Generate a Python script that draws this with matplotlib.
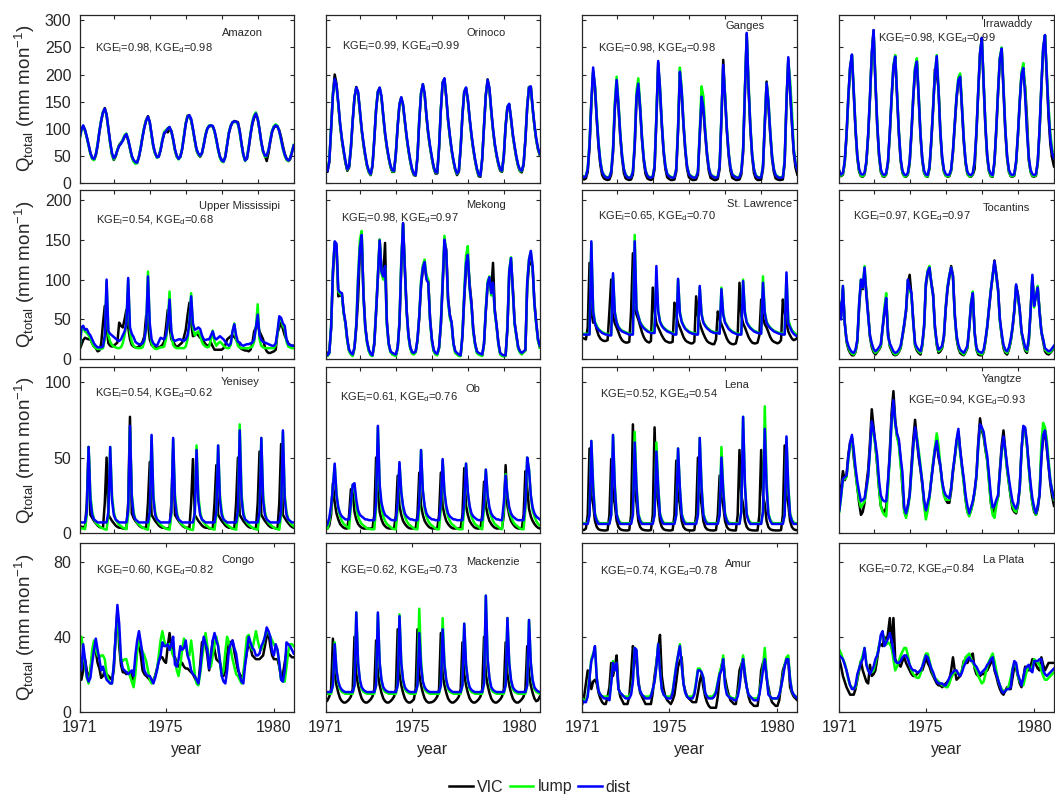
import numpy as np
import matplotlib
matplotlib.use("Agg")
import matplotlib.pyplot as plt
from matplotlib.lines import Line2D

plt.rcParams['font.family'] = ['Liberation Sans', 'DejaVu Sans']
plt.rcParams['mathtext.fontset'] = 'custom'
plt.rcParams['mathtext.rm'] = 'Liberation Sans'
plt.rcParams['mathtext.it'] = 'Liberation Sans:italic'
plt.rcParams['mathtext.bf'] = 'Liberation Sans:bold'

# ---------------- data (monthly, Jan 1971 - Dec 1980) ----------------
basins = ["Amazon", "Orinoco", "Ganges", "Irrawaddy",
          "Upper Mississipi", "Mekong", "St. Lawrence", "Tocantins",
          "Yenisey", "Ob", "Lena", "Yangtze",
          "Congo", "Mackenzie", "Amur", "La Plata"]
kge_l = [0.98, 0.99, 0.98, 0.98, 0.54, 0.98, 0.65, 0.97,
         0.54, 0.61, 0.52, 0.94, 0.60, 0.62, 0.74, 0.72]
kge_d = [0.98, 0.99, 0.98, 0.99, 0.68, 0.97, 0.70, 0.97,
         0.62, 0.76, 0.54, 0.93, 0.82, 0.73, 0.78, 0.84]
year_ticks = [1971, 1975, 1980]
row_yticks = [[0, 50, 100, 150, 200, 250, 300], [0, 50, 100, 150, 200],
              [0, 50, 100], [0, 40, 80]]
row_ymax = [310, 212, 110, 90]

amazon_vic = [83, 99, 104, 96, 84, 70, 55, 45, 42, 50, 68, 93,
              114, 130, 138, 126, 100, 74, 52, 42, 48, 60, 70, 74,
              78, 85, 88, 78, 63, 48, 40, 38, 38, 48, 64, 85,
              103, 116, 123, 112, 88, 66, 54, 48, 49, 60, 78, 90,
              96, 93, 98, 96, 80, 60, 48, 45, 48, 62, 85, 110,
              124, 122, 115, 98, 78, 60, 52, 48, 54, 70, 88, 100,
              104, 105, 104, 95, 80, 62, 48, 42, 40, 48, 70, 92,
              104, 111, 114, 113, 112, 96, 72, 52, 42, 44, 64, 88,
              108, 120, 126, 118, 98, 75, 58, 50, 40, 55, 76, 94,
              102, 105, 103, 97, 84, 68, 54, 45, 40, 43, 56, 68]
amazon_lump = [80, 97, 105, 97, 84, 68, 53, 44, 42, 52, 72, 96,
               116, 131, 136, 124, 98, 72, 52, 43, 49, 61, 69, 73,
               80, 88, 91, 80, 63, 48, 39, 35, 36, 49, 67, 87,
               104, 116, 121, 110, 88, 66, 53, 46, 48, 62, 80, 94,
               97, 101, 103, 94, 78, 60, 48, 43, 48, 64, 88, 110,
               123, 124, 116, 98, 78, 60, 52, 49, 55, 72, 90, 101,
               106, 106, 104, 94, 78, 60, 46, 39, 38, 49, 72, 94,
               106, 112, 112, 112, 108, 92, 70, 50, 40, 46, 67, 92,
               113, 125, 130, 119, 97, 73, 56, 48, 49, 61, 80, 97,
               105, 108, 105, 94, 78, 62, 50, 42, 40, 46, 58, 70]
amazon_dist = [81, 98, 106, 98, 85, 70, 55, 46, 44, 52, 70, 95,
               115, 130, 137, 125, 100, 75, 55, 45, 50, 60, 68, 72,
               78, 86, 90, 80, 65, 50, 42, 38, 37, 48, 65, 85,
               102, 115, 122, 112, 90, 68, 55, 47, 48, 60, 78, 92,
               95, 100, 103, 95, 80, 62, 50, 44, 48, 62, 85, 108,
               122, 125, 118, 100, 80, 62, 54, 50, 55, 70, 88, 100,
               105, 106, 105, 96, 80, 62, 48, 41, 39, 48, 70, 92,
               105, 112, 113, 113, 110, 95, 72, 52, 41, 45, 65, 90,
               110, 122, 128, 118, 98, 75, 58, 50, 50, 60, 78, 95,
               103, 106, 104, 95, 80, 64, 52, 44, 41, 45, 56, 69]

orinoco_vic = [26, 20, 38, 98, 165, 200, 183, 145, 106, 78, 56, 36,
               22, 28, 62, 113, 157, 177, 165, 130, 96, 70, 48, 30,
               19, 14, 30, 78, 134, 168, 175, 157, 122, 89, 64, 45,
               29, 20, 20, 53, 104, 144, 157, 142, 112, 83, 59, 39,
               23, 14, 13, 46, 114, 165, 182, 162, 122, 89, 65, 45,
               27, 17, 17, 63, 134, 185, 192, 157, 115, 85, 59, 39,
               23, 14, 20, 63, 124, 168, 175, 152, 117, 87, 62, 41,
               24, 12, 11, 43, 104, 162, 191, 172, 132, 97, 69, 49,
               33, 22, 20, 48, 104, 140, 144, 117, 87, 65, 45, 30,
               21, 19, 33, 79, 140, 177, 177, 137, 105, 79, 61, 51]
orinoco_lump = [30, 24, 42, 102, 162, 190, 178, 146, 108, 80, 58, 38,
                24, 30, 66, 116, 158, 175, 166, 133, 98, 72, 50, 31,
                20, 15, 33, 82, 137, 169, 175, 158, 123, 90, 66, 46,
                30, 21, 21, 56, 107, 146, 157, 143, 113, 84, 60, 40,
                24, 15, 14, 50, 117, 166, 181, 163, 123, 90, 66, 46,
                28, 19, 19, 66, 137, 186, 191, 158, 116, 86, 60, 40,
                24, 16, 22, 66, 127, 169, 175, 153, 118, 88, 63, 42,
                25, 14, 13, 46, 107, 163, 189, 173, 133, 98, 70, 50,
                34, 24, 21, 51, 107, 141, 145, 118, 88, 66, 46, 31,
                22, 21, 35, 82, 142, 177, 176, 138, 106, 80, 62, 52]
orinoco_dist = [28, 22, 40, 100, 160, 192, 180, 148, 110, 82, 60, 40,
                25, 30, 65, 115, 158, 176, 168, 135, 100, 74, 52, 33,
                22, 16, 32, 80, 135, 168, 176, 160, 125, 92, 68, 48,
                32, 23, 22, 55, 105, 145, 158, 145, 115, 86, 62, 42,
                26, 16, 14, 48, 115, 165, 182, 165, 125, 92, 68, 48,
                30, 20, 19, 65, 135, 185, 193, 160, 118, 88, 62, 42,
                26, 17, 22, 65, 125, 168, 176, 155, 120, 90, 65, 44,
                27, 15, 13, 45, 105, 162, 190, 175, 135, 100, 72, 52,
                36, 25, 22, 50, 105, 140, 146, 120, 90, 68, 48, 33,
                24, 22, 35, 80, 140, 176, 178, 140, 108, 82, 64, 53]

ganges_vic = [8, 6, 8, 20, 65, 145, 205, 175, 115, 65, 32, 14,
              8, 6, 5, 6, 15, 55, 135, 185, 140, 85, 45, 18,
              8, 6, 5, 6, 15, 65, 155, 180, 135, 80, 40, 16,
              8, 6, 5, 7, 25, 115, 222, 165, 105, 55, 25, 10,
              7, 5, 5, 6, 20, 95, 200, 165, 105, 58, 25, 10,
              7, 5, 5, 6, 15, 85, 150, 135, 90, 50, 22, 9,
              7, 5, 5, 7, 25, 115, 227, 158, 95, 50, 22, 9,
              7, 5, 5, 6, 15, 55, 165, 275, 175, 100, 48, 18,
              8, 5, 5, 6, 25, 105, 187, 141, 90, 45, 20, 8,
              6, 5, 5, 6, 35, 145, 228, 170, 110, 55, 28, 15]
ganges_lump = [13, 11, 13, 27, 75, 150, 205, 180, 125, 75, 40, 21,
               14, 11, 10, 11, 22, 65, 150, 196, 150, 92, 52, 26,
               15, 11, 10, 11, 22, 75, 170, 193, 145, 88, 46, 23,
               14, 11, 10, 12, 32, 125, 215, 178, 112, 62, 31, 17,
               13, 11, 10, 11, 27, 105, 213, 175, 112, 64, 31, 17,
               13, 11, 10, 11, 22, 95, 178, 160, 100, 57, 29, 16,
               13, 11, 10, 12, 32, 125, 210, 165, 102, 57, 29, 16,
               13, 11, 10, 11, 22, 65, 175, 270, 185, 108, 54, 26,
               14, 11, 10, 11, 32, 115, 184, 155, 97, 52, 26, 15,
               12, 10, 10, 11, 42, 150, 225, 190, 135, 65, 37, 25]
ganges_dist = [12, 10, 12, 25, 70, 150, 213, 178, 120, 72, 38, 20,
               13, 10, 9, 10, 20, 60, 140, 190, 145, 90, 50, 25,
               14, 10, 9, 10, 20, 70, 160, 183, 140, 85, 45, 22,
               13, 10, 9, 11, 30, 120, 225, 175, 110, 60, 30, 16,
               12, 10, 9, 10, 25, 100, 205, 170, 110, 62, 30, 16,
               12, 10, 9, 10, 20, 90, 159, 140, 95, 55, 28, 15,
               12, 10, 9, 11, 30, 120, 218, 160, 100, 55, 28, 15,
               12, 10, 9, 10, 20, 60, 170, 277, 180, 105, 52, 25,
               13, 10, 9, 10, 30, 110, 184, 150, 95, 50, 25, 14,
               11, 9, 9, 10, 40, 150, 232, 175, 115, 60, 35, 24]

irrawaddy_vic = [22, 12, 15, 36, 85, 155, 212, 235, 165, 95, 45, 20,
                 12, 11, 15, 36, 85, 155, 236, 282, 185, 105, 50, 20,
                 12, 11, 15, 36, 90, 155, 212, 233, 160, 90, 40, 18,
                 12, 11, 15, 36, 90, 155, 207, 222, 155, 85, 40, 18,
                 12, 11, 26, 75, 135, 210, 199, 175, 90, 42, 20, 13,
                 11, 12, 22, 55, 105, 155, 186, 194, 135, 75, 35, 16,
                 12, 11, 15, 25, 90, 165, 238, 268, 180, 100, 45, 20,
                 12, 11, 36, 95, 165, 228, 248, 170, 95, 45, 20, 12,
                 11, 13, 36, 85, 148, 198, 205, 178, 120, 42, 20, 12,
                 11, 13, 36, 95, 175, 245, 272, 195, 120, 70, 45, 30]
irrawaddy_lump = [20, 13, 16, 38, 88, 158, 213, 236, 172, 102, 48, 22,
                  13, 12, 16, 38, 88, 158, 238, 280, 192, 112, 53, 22,
                  13, 12, 16, 38, 93, 160, 218, 236, 168, 97, 44, 19,
                  12, 12, 16, 38, 95, 162, 215, 230, 165, 92, 44, 19,
                  12, 12, 28, 78, 140, 202, 236, 175, 97, 46, 21, 13,
                  12, 13, 23, 58, 110, 162, 195, 202, 145, 82, 38, 17,
                  12, 12, 16, 38, 93, 170, 240, 265, 188, 107, 48, 21,
                  13, 12, 38, 98, 170, 232, 250, 180, 102, 48, 21, 13,
                  12, 14, 38, 88, 152, 205, 221, 170, 100, 46, 21, 13,
                  12, 14, 38, 98, 180, 250, 272, 205, 140, 90, 62, 50]
irrawaddy_dist = [21, 15, 18, 40, 90, 160, 215, 237, 170, 100, 50, 25,
                  16, 15, 18, 40, 90, 160, 240, 282, 190, 110, 55, 25,
                  16, 14, 18, 40, 95, 160, 215, 233, 165, 95, 45, 22,
                  15, 14, 18, 40, 95, 160, 210, 224, 160, 90, 45, 22,
                  15, 14, 30, 80, 140, 200, 234, 170, 95, 48, 24, 16,
                  14, 15, 25, 60, 110, 160, 190, 196, 140, 80, 40, 20,
                  15, 14, 18, 40, 95, 170, 240, 267, 185, 105, 50, 24,
                  16, 14, 40, 100, 170, 230, 248, 175, 100, 50, 24, 16,
                  14, 16, 40, 90, 150, 200, 212, 160, 95, 48, 24, 16,
                  14, 16, 40, 100, 180, 250, 273, 200, 130, 80, 55, 45]

umiss_vic = [12, 18, 24, 27, 26, 25, 25, 20, 16, 14, 10, 11,
             20, 45, 67, 40, 20, 17, 16, 17, 19, 21, 46, 42,
             40, 50, 62, 40, 25, 18, 16, 15, 15, 16, 18, 22,
             29, 55, 45, 25, 18, 16, 15, 14, 15, 16, 18, 22,
             40, 62, 40, 25, 22, 18, 15, 17, 19, 21, 28, 37,
             55, 71, 45, 29, 30, 33, 30, 27, 25, 22, 19, 17,
             18, 21, 16, 12, 12, 12, 12, 12, 14, 18, 25, 27,
             29, 30, 28, 25, 20, 15, 13, 12, 11, 11, 10, 12,
             20, 35, 40, 42, 35, 30, 25, 15, 10, 8, 8, 9,
             10, 12, 33, 40, 46, 38, 30, 25, 20, 18, 17, 17]
umiss_lump = [12, 35, 40, 35, 33, 30, 26, 20, 16, 14, 13, 13,
              13, 14, 25, 98, 30, 22, 18, 16, 15, 14, 14, 15,
              20, 30, 45, 100, 35, 22, 17, 15, 14, 14, 14, 15,
              22, 40, 110, 40, 20, 15, 13, 13, 14, 15, 15, 16,
              25, 45, 85, 30, 18, 15, 14, 14, 14, 14, 14, 16,
              25, 45, 83, 40, 30, 33, 35, 30, 22, 18, 16, 15,
              16, 25, 36, 22, 17, 20, 22, 20, 17, 15, 14, 14,
              18, 35, 45, 25, 17, 15, 14, 14, 14, 14, 14, 15,
              16, 22, 40, 69, 25, 17, 15, 14, 14, 14, 14, 14,
              14, 18, 32, 52, 50, 42, 38, 22, 16, 15, 14, 14]
umiss_dist = [15, 40, 42, 37, 38, 33, 30, 25, 20, 17, 15, 15,
              15, 16, 30, 100, 35, 32, 30, 28, 26, 24, 23, 25,
              30, 35, 45, 102, 40, 32, 28, 22, 20, 19, 19, 20,
              25, 40, 104, 45, 25, 20, 18, 17, 22, 27, 26, 25,
              30, 45, 75, 35, 25, 23, 24, 25, 25, 24, 23, 25,
              30, 45, 79, 45, 37, 38, 40, 38, 30, 25, 24, 25,
              25, 30, 35, 27, 25, 27, 29, 27, 25, 22, 19, 17,
              20, 35, 44, 30, 22, 21, 18, 17, 18, 19, 19, 20,
              21, 25, 40, 56, 30, 24, 22, 21, 20, 19, 18, 17,
              17, 20, 35, 54, 52, 45, 42, 25, 19, 18, 17, 17]

mekong_vic = [11, 6, 9, 38, 105, 145, 140, 79, 80, 82, 58, 45,
              24, 11, 7, 5, 14, 40, 75, 135, 155, 82, 42, 22,
              11, 6, 5, 18, 58, 102, 150, 112, 105, 146, 48, 20,
              10, 7, 6, 5, 14, 44, 115, 170, 115, 62, 30, 15,
              9, 7, 9, 23, 52, 92, 112, 118, 102, 98, 52, 25,
              11, 7, 6, 14, 42, 92, 147, 138, 78, 56, 45, 20,
              10, 7, 5, 5, 28, 75, 115, 125, 95, 72, 38, 20,
              10, 7, 6, 5, 19, 60, 92, 100, 85, 121, 62, 42,
              20, 7, 5, 4, 5, 38, 105, 123, 90, 47, 30, 15,
              10, 7, 9, 11, 90, 118, 123, 115, 72, 46, 25, 15]
mekong_lump = [9, 4, 7, 42, 112, 146, 142, 85, 82, 80, 58, 44,
               23, 10, 6, 4, 14, 45, 105, 150, 161, 78, 38, 20,
               10, 5, 4, 22, 62, 106, 150, 108, 100, 115, 42, 18,
               9, 6, 5, 4, 14, 48, 125, 170, 110, 58, 28, 13,
               7, 6, 9, 24, 55, 98, 118, 125, 105, 100, 48, 22,
               10, 6, 5, 14, 46, 100, 155, 132, 72, 52, 44, 18,
               8, 6, 4, 4, 32, 85, 130, 142, 88, 66, 34, 18,
               8, 6, 5, 4, 20, 65, 98, 104, 80, 92, 58, 40,
               18, 6, 4, 4, 4, 42, 112, 128, 85, 43, 28, 13,
               8, 6, 9, 11, 96, 126, 135, 115, 68, 44, 23, 15]
mekong_dist = [10, 5, 8, 40, 110, 148, 145, 87, 84, 83, 60, 46,
               25, 12, 8, 6, 15, 42, 100, 140, 156, 80, 40, 22,
               12, 7, 5, 20, 60, 104, 149, 110, 104, 117, 45, 20,
               10, 8, 7, 6, 15, 46, 120, 171, 112, 60, 30, 15,
               9, 8, 10, 25, 54, 95, 115, 122, 100, 96, 50, 25,
               12, 8, 7, 15, 45, 96, 150, 135, 75, 55, 46, 20,
               10, 8, 6, 5, 30, 80, 120, 131, 90, 70, 37, 20,
               10, 8, 7, 6, 20, 62, 95, 103, 83, 96, 60, 42,
               20, 8, 6, 5, 5, 40, 110, 127, 87, 45, 30, 15,
               10, 8, 10, 12, 96, 125, 136, 117, 70, 46, 25, 17]

stlaw_vic = [27, 26, 25, 40, 121, 60, 46, 46, 37, 30, 26, 24,
             23, 23, 24, 60, 100, 55, 45, 40, 34, 28, 24, 22,
             21, 21, 22, 60, 133, 62, 56, 50, 42, 34, 28, 24,
             22, 21, 23, 90, 60, 45, 40, 35, 30, 26, 23, 22,
             21, 21, 22, 71, 55, 45, 40, 34, 28, 24, 22, 21,
             20, 20, 22, 79, 55, 45, 38, 32, 27, 23, 21, 20,
             19, 19, 25, 60, 50, 44, 38, 32, 26, 22, 20, 19,
             19, 20, 30, 96, 55, 45, 40, 34, 28, 24, 21, 20,
             20, 21, 30, 75, 52, 44, 40, 34, 28, 24, 22, 21,
             20, 21, 24, 75, 60, 45, 35, 30, 26, 24, 25, 27]
stlaw_lump = [32, 32, 32, 32, 32, 146, 62, 47, 42, 38, 36, 34,
              33, 32, 32, 31, 31, 105, 60, 47, 41, 38, 36, 35,
              34, 33, 32, 32, 32, 156, 64, 55, 47, 43, 40, 38,
              36, 35, 34, 33, 45, 100, 62, 48, 43, 40, 38, 36,
              35, 34, 33, 32, 32, 100, 60, 48, 43, 39, 37, 35,
              34, 33, 33, 32, 32, 90, 58, 47, 43, 40, 38, 36,
              35, 34, 34, 33, 33, 90, 58, 47, 43, 39, 37, 35,
              34, 33, 32, 32, 32, 100, 60, 47, 43, 40, 38, 36,
              35, 34, 33, 33, 104, 60, 47, 43, 40, 38, 36, 35,
              34, 33, 33, 32, 32, 105, 50, 42, 37, 34, 32, 31]
stlaw_dist = [31, 31, 31, 31, 31, 148, 60, 45, 40, 37, 35, 33,
              32, 31, 31, 30, 30, 108, 58, 46, 40, 37, 35, 34,
              33, 32, 31, 31, 31, 148, 62, 54, 46, 42, 39, 37,
              35, 34, 33, 33, 33, 117, 60, 47, 42, 39, 37, 35,
              34, 33, 32, 31, 31, 101, 58, 47, 42, 38, 36, 34,
              33, 32, 32, 31, 31, 92, 56, 46, 42, 39, 37, 35,
              34, 33, 33, 33, 32, 88, 56, 46, 42, 38, 36, 34,
              33, 32, 31, 31, 31, 98, 58, 46, 42, 39, 37, 35,
              34, 33, 33, 32, 96, 58, 46, 42, 39, 37, 35, 34,
              33, 32, 32, 31, 31, 109, 45, 40, 35, 32, 30, 29]

tocan_vic = [70, 55, 88, 48, 22, 13, 8, 5, 5, 9, 22, 65,
             96, 88, 110, 85, 58, 28, 15, 9, 6, 9, 12, 16,
             38, 58, 75, 35, 16, 11, 6, 5, 6, 9, 14, 28,
             42, 60, 95, 106, 80, 50, 17, 11, 8, 6, 17, 40,
             92, 108, 113, 97, 82, 42, 18, 8, 10, 14, 28, 63,
             88, 103, 117, 105, 58, 26, 14, 8, 6, 5, 9, 14,
             38, 68, 80, 35, 12, 6, 5, 5, 9, 22, 40, 63,
             85, 104, 124, 108, 88, 50, 29, 14, 8, 6, 12, 22,
             38, 60, 92, 82, 62, 34, 21, 11, 8, 22, 58, 103,
             70, 78, 88, 62, 34, 22, 10, 7, 6, 8, 11, 15]
tocan_lump = [72, 52, 92, 46, 24, 15, 10, 7, 6, 10, 23, 70,
              100, 90, 117, 82, 55, 30, 18, 11, 8, 10, 13, 17,
              40, 65, 83, 30, 18, 13, 8, 6, 7, 10, 15, 30,
              45, 62, 98, 88, 80, 45, 18, 13, 10, 8, 18, 42,
              96, 112, 117, 95, 78, 38, 20, 10, 12, 15, 30, 67,
              92, 106, 115, 102, 53, 28, 16, 10, 8, 6, 10, 15,
              40, 72, 85, 32, 13, 8, 7, 6, 10, 23, 42, 66,
              88, 106, 120, 103, 85, 48, 31, 16, 10, 8, 13, 23,
              40, 62, 92, 78, 60, 33, 23, 13, 10, 23, 60, 104,
              65, 82, 92, 60, 35, 25, 12, 10, 8, 9, 12, 16]
tocan_dist = [71, 50, 92, 45, 25, 17, 12, 9, 8, 12, 25, 70,
              100, 90, 115, 80, 54, 30, 20, 13, 10, 12, 15, 19,
              40, 60, 77, 29, 20, 15, 10, 8, 9, 12, 17, 30,
              45, 62, 100, 90, 83, 46, 20, 15, 12, 10, 20, 42,
              96, 110, 115, 95, 80, 40, 22, 12, 14, 17, 30, 65,
              90, 105, 115, 104, 55, 30, 18, 12, 10, 8, 12, 17,
              40, 70, 83, 33, 15, 10, 9, 8, 12, 25, 42, 65,
              87, 105, 123, 105, 87, 50, 33, 18, 12, 10, 15, 25,
              40, 62, 94, 80, 62, 35, 25, 15, 12, 25, 60, 106,
              67, 80, 90, 58, 35, 25, 14, 12, 10, 11, 14, 17]

yenisey_vic = [5, 4, 4, 4, 20, 57, 12, 10, 8, 6.5, 5, 4,
               3.5, 3.5, 20, 50, 12, 10, 8, 6.5, 5, 4, 3.5, 3.5,
               3, 3, 3, 20, 77, 13, 10, 8, 6.5, 5, 4, 3.5,
               3.5, 3, 20, 47, 12, 10, 8, 6.5, 5, 4, 3.5, 3.5,
               3, 3, 3, 20, 55, 12, 10, 8, 6.5, 5, 4, 3.5,
               3.5, 3, 20, 49, 12, 10, 8, 6.5, 5, 4, 3.5, 3.5,
               3, 3, 3, 20, 45, 12, 10, 8, 6.5, 5, 4, 3.5,
               3.5, 3, 3, 20, 50, 12, 10, 8, 6.5, 5, 4, 3.5,
               3.5, 3, 3, 20, 54, 12, 10, 8, 6.5, 5, 4, 3.5,
               3.5, 3, 3, 20, 59, 12, 10, 8, 6.5, 5, 4, 3.5]
yenisey_lump = [4, 3, 3, 2.5, 12, 57, 25, 14, 9, 7, 5.5, 4.5,
                3.5, 3, 2.5, 2.2, 12, 57, 25, 14, 9, 7, 5.5, 4.5,
                3.5, 3, 2.5, 12, 70, 26, 14, 9, 7, 5.5, 4.5, 3.5,
                3, 2.5, 2.2, 12, 64, 25, 14, 9, 7, 5.5, 4.5, 3.5,
                3, 2.5, 2.2, 12, 62, 25, 14, 9, 7, 5.5, 4.5, 3.5,
                3, 2.5, 2.2, 2, 12, 58, 25, 14, 9, 7, 5.5, 4.5,
                3.5, 3, 2.5, 2.2, 12, 58, 25, 14, 9, 7, 5.5, 4.5,
                3.5, 3, 2.5, 2.2, 12, 72, 26, 14, 9, 7, 5.5, 4.5,
                3.5, 3, 2.5, 2.2, 12, 63, 25, 14, 9, 7, 5.5, 4.5,
                3.5, 3, 2.5, 2.2, 12, 67, 25, 14, 9, 7, 5.5, 4.5]
yenisey_dist = [7, 7, 7, 7, 14, 57, 22, 12, 9, 8, 7, 7,
                7, 7, 7, 7, 14, 57, 22, 12, 9, 8, 7, 7,
                7, 7, 7, 15, 71, 24, 12, 9, 8, 7, 7, 7,
                7, 7, 7, 14, 65, 23, 12, 9, 8, 7, 7, 7,
                7, 7, 7, 14, 63, 22, 12, 9, 8, 7, 7, 7,
                7, 7, 7, 7, 13, 55, 21, 12, 9, 8, 7, 7,
                7, 7, 7, 7, 14, 58, 22, 12, 9, 8, 7, 7,
                7, 7, 7, 7, 15, 68, 23, 12, 9, 8, 7, 7,
                7, 7, 7, 7, 14, 63, 22, 12, 9, 8, 7, 7,
                7, 7, 7, 7, 15, 68, 23, 12, 9, 8, 7, 7]

ob_vic = [3, 3, 5, 12, 33, 20, 13, 9, 6, 4.5, 3.5, 3,
          3, 12, 29, 28, 14, 9, 6, 4.5, 3.5, 3, 3, 3,
          3, 3, 3, 12, 50, 30, 14, 9, 6, 4.5, 3.5, 3,
          3, 3, 3, 12, 38, 18, 12, 8, 6, 4.5, 3.5, 3,
          3, 3, 3, 12, 40, 18, 12, 8, 6, 4.5, 3.5, 3,
          3, 3, 3, 12, 40, 18, 12, 8, 6, 4.5, 3.5, 3,
          3, 3, 3, 3, 12, 43, 18, 12, 8, 6, 4.5, 3.5,
          3, 3, 3, 12, 34, 18, 12, 8, 6, 4.5, 3.5, 3,
          3, 3, 3, 12, 45, 18, 12, 8, 6, 4.5, 3.5, 3,
          3, 3, 12, 41, 30, 16, 11, 8, 6, 4.5, 3.5, 3]
ob_lump = [3, 3, 8, 16, 30, 45, 26, 16, 11, 8, 6, 5,
           4, 3, 18, 32, 30, 18, 11, 8, 6, 5, 4, 3,
           3, 2.5, 2.5, 2.5, 16, 70, 30, 17, 11, 8, 6, 5,
           4, 3, 2.5, 2.5, 16, 46, 27, 16, 11, 8, 6, 5,
           4, 3, 2.5, 2.5, 16, 55, 28, 16, 11, 8, 6, 5,
           4, 3, 2.5, 2.5, 16, 48, 27, 16, 11, 8, 6, 5,
           4, 3, 2.5, 2.5, 2.5, 16, 46, 27, 16, 11, 8, 6,
           5, 4, 3, 2.5, 16, 42, 25, 15, 11, 8, 6, 5,
           4, 3, 2.5, 16, 39, 25, 15, 11, 8, 6, 5, 4,
           3, 2.5, 2.5, 16, 50, 42, 25, 15, 11, 8, 6, 5]
ob_dist = [4, 6, 10, 18, 30, 46, 25, 17, 13, 11, 10, 9,
           9, 9, 20, 32, 33, 22, 15, 12, 11, 10, 9, 9,
           8.5, 8.5, 8.5, 8.5, 20, 71, 32, 20, 15, 12, 11, 10,
           9, 8.5, 8.5, 8.5, 20, 47, 27, 18, 13, 11, 10, 9,
           9, 8.5, 8.5, 8.5, 20, 55, 28, 18, 13, 11, 10, 9,
           9, 8.5, 8.5, 8.5, 20, 49, 27, 18, 13, 11, 10, 9,
           9, 8.5, 8.5, 8.5, 8.5, 20, 46, 27, 18, 13, 11, 10,
           9, 8.5, 8.5, 8.5, 20, 42, 25, 17, 13, 11, 10, 9,
           9, 8.5, 8.5, 20, 38, 25, 17, 13, 11, 10, 9, 8.5,
           8.5, 8.5, 8.5, 20, 50, 42, 25, 17, 13, 11, 10, 9]

lena_vic = [2, 2, 3, 12, 56, 25, 19, 8, 4, 2.5, 2, 1.8,
            1.7, 1.7, 2, 12, 49, 25, 19, 8, 4, 2.5, 2, 1.8,
            1.7, 1.7, 2, 12, 72, 28, 20, 8, 4, 2.5, 2, 1.8,
            1.7, 1.7, 2, 12, 70, 28, 20, 8, 4, 2.5, 2, 1.8,
            1.7, 1.7, 2, 12, 48, 25, 19, 8, 4, 2.5, 2, 1.8,
            1.7, 1.7, 2, 12, 50, 25, 19, 8, 4, 2.5, 2, 1.8,
            1.7, 1.7, 2, 12, 38, 24, 18, 8, 4, 2.5, 2, 1.8,
            1.7, 1.7, 12, 55, 25, 19, 8, 4, 2.5, 2, 1.8, 1.7,
            1.7, 1.7, 12, 55, 25, 19, 8, 4, 2.5, 2, 1.8, 1.7,
            1.7, 1.7, 2, 12, 58, 25, 19, 8, 4, 2.5, 2, 1.8]
lena_lump = [6.5, 6.5, 6.5, 6.5, 12, 61, 32, 13, 9, 7, 6.5, 6.5,
             6.5, 6.5, 6.5, 6.5, 12, 65, 32, 13, 9, 7, 6.5, 6.5,
             6.5, 6.5, 6.5, 6.5, 12, 67, 32, 13, 9, 7, 6.5, 6.5,
             6.5, 6.5, 6.5, 6.5, 12, 60, 32, 13, 9, 7, 6.5, 6.5,
             6.5, 6.5, 6.5, 6.5, 12, 56, 30, 13, 9, 7, 6.5, 6.5,
             6.5, 6.5, 6.5, 6.5, 12, 63, 32, 13, 9, 7, 6.5, 6.5,
             6.5, 6.5, 6.5, 6.5, 12, 57, 30, 13, 9, 7, 6.5, 6.5,
             6.5, 6.5, 6.5, 6.5, 14, 77, 33, 13, 9, 7, 6.5, 6.5,
             6.5, 6.5, 6.5, 6.5, 14, 84, 35, 13, 9, 7, 6.5, 6.5,
             6.5, 6.5, 6.5, 6.5, 12, 63, 32, 13, 9, 7, 6.5, 6.5]
lena_dist = [6, 6, 6, 6, 12, 61, 30, 12, 8, 6, 6, 6,
             6, 6, 6, 6, 12, 65, 30, 12, 8, 6, 6, 6,
             6, 6, 6, 6, 12, 60, 30, 12, 8, 6, 6, 6,
             6, 6, 6, 6, 12, 54, 30, 12, 8, 6, 6, 6,
             6, 6, 6, 6, 12, 56, 30, 12, 8, 6, 6, 6,
             6, 6, 6, 6, 12, 63, 30, 12, 8, 6, 6, 6,
             6, 6, 6, 6, 12, 50, 28, 12, 8, 6, 6, 6,
             6, 6, 6, 6, 14, 77, 32, 12, 8, 6, 6, 6,
             6, 6, 6, 6, 14, 69, 30, 12, 8, 6, 6, 6,
             6, 6, 6, 6, 12, 64, 30, 12, 8, 6, 6, 6]

yangtze_vic = [16, 30, 41, 35, 38, 52, 60, 63, 50, 40, 30, 20,
               12, 14, 20, 32, 42, 60, 82, 70, 58, 45, 30, 18,
               15, 14, 17, 33, 55, 80, 94, 75, 64, 60, 48, 30,
               14, 12, 18, 26, 45, 62, 75, 62, 50, 42, 32, 20,
               14, 18, 24, 36, 46, 55, 60, 50, 44, 34, 26, 22,
               20, 20, 28, 40, 50, 60, 67, 55, 44, 34, 22, 14,
               12, 15, 20, 27, 38, 60, 76, 68, 64, 55, 48, 35,
               20, 14, 15, 20, 24, 42, 58, 68, 55, 42, 33, 24,
               16, 14, 13, 18, 30, 55, 70, 68, 58, 45, 30, 20,
               14, 12, 16, 26, 50, 64, 66, 56, 44, 32, 24, 18]
yangtze_lump = [14, 24, 35, 36, 37, 48, 58, 63, 53, 40, 30, 22,
                17, 19, 21, 28, 37, 54, 72, 66, 58, 46, 30, 18,
                14, 12, 11, 30, 50, 74, 86, 72, 64, 58, 45, 32,
                14, 10, 16, 24, 40, 56, 68, 64, 55, 45, 33, 18,
                9, 15, 24, 36, 47, 57, 66, 58, 45, 32, 25, 22,
                22, 22, 30, 42, 50, 60, 67, 53, 43, 33, 22, 14,
                11, 15, 20, 27, 37, 56, 70, 69, 66, 56, 48, 33,
                20, 12, 10, 18, 24, 40, 54, 62, 53, 43, 33, 25,
                18, 15, 14, 19, 30, 54, 70, 69, 58, 43, 30, 20,
                15, 12, 18, 26, 60, 73, 70, 62, 48, 35, 28, 22]
yangtze_dist = [15, 25, 36, 37, 38, 50, 60, 65, 55, 43, 34, 27,
                21, 22, 23, 30, 38, 55, 74, 68, 60, 51, 35, 25,
                22, 21, 21, 35, 51, 75, 88, 73, 66, 62, 50, 40,
                17, 13, 18, 25, 42, 58, 70, 62, 52, 43, 34, 22,
                15, 20, 25, 35, 45, 55, 61, 52, 45, 34, 28, 25,
                24, 23, 30, 42, 51, 62, 69, 55, 45, 36, 25, 18,
                13, 17, 21, 28, 38, 58, 72, 70, 67, 58, 51, 38,
                25, 17, 18, 22, 25, 40, 55, 64, 55, 45, 36, 28,
                21, 18, 16, 20, 30, 55, 71, 70, 60, 45, 33, 23,
                17, 13, 18, 25, 50, 65, 68, 58, 45, 34, 28, 23]

congo_vic = [24, 17, 22, 28, 22, 17, 22, 30, 36, 32, 26, 23,
             18, 19, 22, 20, 19, 18, 17, 22, 40, 54, 35, 25,
             21, 21, 20, 21, 21, 19, 17, 25, 33, 38, 30, 22,
             20, 19, 18, 17, 16, 17, 19, 23, 27, 29, 29, 27,
             26, 35, 42, 35, 30, 29, 26, 24, 25, 26, 24, 23,
             23, 22, 21, 20, 18, 16, 15, 25, 37, 38, 37, 30,
             22, 30, 38, 33, 28, 27, 26, 22, 19, 22, 30, 37,
             37, 38, 32, 27, 22, 20, 18, 20, 26, 32, 37, 34,
             30, 29, 28, 28, 28, 29, 30, 35, 40, 42, 35, 30,
             28, 28, 28, 24, 18, 20, 26, 32, 31, 30, 29, 29]
congo_lump = [38, 40, 33, 25, 18, 15, 22, 33, 38, 33, 30, 29,
              30, 30, 28, 20, 17, 15, 15, 25, 38, 53, 40, 28,
              27, 28, 28, 24, 19, 16, 13, 20, 32, 38, 35, 32,
              30, 27, 22, 17, 15, 16, 19, 22, 30, 38, 43, 38,
              35, 36, 36, 33, 30, 28, 22, 19, 25, 33, 39, 35,
              30, 30, 38, 30, 20, 15, 14, 20, 28, 35, 42, 35,
              28, 24, 30, 36, 40, 35, 27, 19, 22, 32, 40, 37,
              33, 28, 24, 20, 19, 17, 15, 20, 30, 40, 41, 35,
              33, 38, 43, 38, 34, 33, 36, 40, 44, 42, 40, 38,
              36, 34, 33, 25, 17, 16, 16, 24, 32, 36, 36, 35]
congo_dist = [30, 22, 36, 28, 19, 16, 18, 26, 33, 39, 33, 28,
              22, 24, 20, 17, 16, 15, 15, 25, 40, 57, 47, 28,
              23, 22, 21, 20, 21, 22, 19, 30, 38, 43, 37, 30,
              22, 20, 19, 19, 17, 15, 18, 22, 27, 30, 37, 35,
              35, 36, 33, 36, 40, 25, 24, 28, 35, 33, 34, 38,
              30, 27, 22, 20, 19, 17, 15, 22, 32, 40, 36, 33,
              23, 30, 38, 42, 38, 35, 27, 19, 16, 15, 22, 33,
              36, 38, 34, 31, 24, 19, 16, 15, 25, 32, 40, 37,
              34, 33, 30, 30, 31, 35, 37, 40, 45, 43, 40, 32,
              30, 36, 33, 26, 17, 16, 22, 37, 36, 35, 33, 31]

mack_vic = [5, 6, 8, 12, 39, 20, 14, 10, 7, 5.5, 4.8, 4.8,
            5.5, 6.5, 8, 12, 40, 20, 14, 10, 7, 5.5, 4.8, 4.8,
            5.5, 6.5, 8, 12, 38, 20, 14, 10, 7, 5.5, 4.8, 4.8,
            5.5, 6.5, 8, 12, 44, 20, 14, 10, 7, 5.5, 4.8, 4.8,
            5.5, 6.5, 12, 44, 20, 14, 10, 7, 5.5, 4.8, 4.8, 5,
            5.5, 6.5, 8, 12, 42, 20, 14, 10, 7, 5.5, 4.8, 4.8,
            5.5, 6.5, 8, 12, 37, 20, 14, 10, 7, 5.5, 4.8, 4.8,
            5.5, 6.5, 8, 12, 40, 20, 14, 10, 7, 5.5, 4.8, 4.8,
            5.5, 6.5, 8, 12, 37, 20, 14, 10, 7, 5.5, 4.8, 4.8,
            5.5, 6.5, 8, 12, 35, 20, 14, 10, 7, 5.5, 6, 8]
mack_lump = [9.5, 9.5, 9.5, 9.5, 14, 37, 22, 15, 12, 10.5, 10, 9.5,
             9.5, 9.5, 9.5, 9.5, 14, 53, 26, 16, 12, 10.5, 10, 9.5,
             9.5, 9.5, 9.5, 9.5, 14, 52, 26, 16, 12, 10.5, 10, 9.5,
             9.5, 9.5, 9.5, 9.5, 14, 52, 26, 16, 12, 10.5, 10, 9.5,
             9.5, 9.5, 9.5, 14, 55, 27, 16, 12, 10.5, 10, 9.5, 9.5,
             9.5, 9.5, 9.5, 9.5, 14, 50, 26, 16, 12, 10.5, 10, 9.5,
             9.5, 9.5, 9.5, 9.5, 14, 47, 25, 16, 12, 10.5, 10, 9.5,
             9.5, 9.5, 9.5, 9.5, 15, 62, 28, 17, 12, 10.5, 10, 9.5,
             9.5, 9.5, 9.5, 9.5, 14, 50, 26, 16, 12, 10.5, 10, 9.5,
             9.5, 9.5, 9.5, 9.5, 14, 49, 26, 16, 12, 10.5, 10, 9.5]
mack_dist = [10.4, 10.4, 10.4, 10.4, 14, 36, 22, 16, 13, 11.6, 10.8, 10.4,
             10.4, 10.4, 10.4, 10.4, 14, 53, 26, 17, 13, 11.6, 10.8, 10.4,
             10.4, 10.4, 10.4, 10.4, 14, 53, 26, 17, 13, 11.6, 10.8, 10.4,
             10.4, 10.4, 10.4, 10.4, 14, 51, 26, 17, 13, 11.6, 10.8, 10.4,
             10.4, 10.4, 10.4, 14, 42, 24, 16, 13, 11.6, 10.8, 10.4, 10.4,
             10.4, 10.4, 10.4, 10.4, 14, 44, 25, 17, 13, 11.6, 10.8, 10.4,
             10.4, 10.4, 10.4, 10.4, 14, 47, 25, 17, 13, 11.6, 10.8, 10.4,
             10.4, 10.4, 10.4, 10.4, 15, 62, 28, 18, 13, 11.6, 10.8, 10.4,
             10.4, 10.4, 10.4, 10.4, 14, 50, 26, 17, 13, 11.6, 10.8, 10.4,
             10.4, 10.4, 10.4, 10.4, 14, 49, 26, 17, 13, 11.6, 10.8, 10.4]

amur_vic = [4, 8, 15, 22, 18, 12, 16, 17, 15, 10, 7, 5,
            4, 4, 8, 13, 26, 19, 24, 30, 13, 8, 6, 4,
            4, 4, 8, 20, 35, 30, 26, 17, 10, 8, 6, 4,
            4, 4, 4, 10, 19, 26, 34, 41, 19, 12, 8, 6,
            5, 4, 6, 9, 16, 24, 27, 29, 15, 11, 8, 7,
            6, 5, 5, 5, 10, 16, 20, 13, 8, 5, 3, 2,
            2, 2, 2, 8, 19, 24, 28, 18, 13, 9, 6, 5,
            4, 4, 12, 22, 25, 28, 18, 13, 8, 5, 4, 3,
            3, 3, 10, 22, 26, 28, 18, 13, 8, 5, 4, 3,
            3, 6, 14, 22, 25, 27, 28, 13, 10, 8, 7, 6]
amur_lump = [7, 6, 6, 9, 19, 28, 31, 34, 18, 11, 9, 8,
             8, 8, 8, 7, 16, 27, 22, 26, 12, 10, 9, 8,
             8, 8, 8, 10, 17, 34, 32, 15, 11, 9, 8, 8,
             8, 8, 9, 12, 16, 25, 36, 22, 12, 9, 8, 8,
             8, 8, 11, 18, 25, 30, 36, 25, 15, 10, 8, 8,
             8, 8, 10, 16, 23, 23, 21, 18, 10, 8, 8, 8,
             8, 9, 11, 16, 21, 24, 30, 15, 10, 8, 8, 7,
             7, 7, 9, 14, 23, 30, 21, 13, 9, 8, 7, 7,
             7, 7, 10, 16, 24, 34, 20, 10, 8, 7, 7, 7,
             7, 9, 13, 19, 25, 29, 30, 18, 11, 9, 8, 8]
amur_dist = [6, 5, 5, 8, 18, 27, 30, 35, 18, 11, 9, 8,
             7, 7, 7, 6, 15, 26, 22, 26, 12, 10, 9, 8,
             7, 7, 7, 9, 16, 34, 33, 15, 11, 9, 8, 7,
             7, 7, 8, 12, 16, 24, 36, 22, 12, 9, 8, 7,
             7, 7, 10, 17, 24, 30, 35, 25, 15, 10, 8, 7,
             7, 7, 9, 15, 22, 22, 21, 18, 10, 8, 7, 7,
             7, 8, 10, 15, 20, 22, 28, 14, 9, 8, 7, 7,
             6, 6, 8, 13, 22, 28, 20, 13, 9, 8, 7, 6,
             6, 6, 9, 15, 22, 28, 19, 9, 8, 7, 7, 7,
             7, 9, 13, 18, 24, 28, 28, 17, 11, 9, 8, 7]

laplata_vic = [28, 24, 19, 16, 13, 11, 9, 9, 9, 12, 17, 22,
               27, 22, 19, 16, 15, 25, 19, 20, 22, 28, 35, 36,
               35, 40, 36, 42, 50, 34, 50, 28, 26, 25, 24, 27,
               29, 26, 24, 22, 20, 19, 19, 20, 21, 22, 22, 25,
               29, 26, 24, 21, 19, 17, 15, 14, 14, 13, 14, 15,
               16, 17, 22, 29, 22, 17, 18, 19, 22, 27, 26, 26,
               28, 30, 31, 23, 20, 19, 19, 20, 20, 21, 22, 24,
               26, 29, 22, 19, 15, 12, 10, 9, 11, 13, 12, 12,
               18, 24, 23, 19, 15, 13, 18, 24, 23, 22, 24, 28,
               27, 25, 23, 22, 29, 25, 22, 24, 26, 26, 26, 26]
laplata_lump = [33, 31, 28, 26, 22, 17, 14, 13, 12, 13, 18, 23,
                27, 30, 34, 26, 22, 21, 21, 22, 26, 30, 35, 40,
                42, 38, 36, 37, 36, 34, 28, 22, 24, 27, 30, 32,
                34, 34, 30, 25, 22, 20, 19, 18, 18, 20, 24, 28,
                31, 31, 27, 23, 20, 18, 17, 16, 15, 14, 14, 13,
                13, 15, 18, 20, 21, 21, 20, 20, 22, 26, 29, 30,
                31, 28, 26, 24, 22, 19, 17, 15, 16, 20, 24, 27,
                29, 31, 27, 22, 17, 14, 12, 11, 11, 12, 14, 18,
                23, 26, 24, 19, 16, 15, 14, 18, 22, 24, 22, 24,
                28, 27, 26, 25, 22, 19, 17, 17, 18, 19, 20, 21]
laplata_dist = [30, 29, 28, 25, 22, 18, 14, 12, 12, 14, 20, 23,
                26, 28, 34, 25, 22, 20, 22, 24, 28, 30, 34, 41,
                43, 35, 37, 39, 42, 38, 32, 27, 26, 26, 27, 29,
                30, 30, 28, 25, 23, 22, 22, 21, 21, 22, 24, 27,
                30, 29, 26, 23, 21, 18, 16, 15, 15, 15, 14, 14,
                16, 18, 20, 21, 22, 22, 20, 19, 21, 24, 26, 28,
                29, 27, 27, 25, 24, 22, 20, 21, 22, 23, 25, 26,
                28, 29, 23, 20, 17, 14, 11, 10, 11, 12, 12, 13,
                22, 27, 26, 20, 17, 14, 18, 23, 24, 25, 22, 21,
                27, 27, 27, 28, 28, 22, 20, 19, 20, 21, 22, 23]

series = [
    (amazon_vic, amazon_lump, amazon_dist), (orinoco_vic, orinoco_lump, orinoco_dist),
    (ganges_vic, ganges_lump, ganges_dist), (irrawaddy_vic, irrawaddy_lump, irrawaddy_dist),
    (umiss_vic, umiss_lump, umiss_dist), (mekong_vic, mekong_lump, mekong_dist),
    (stlaw_vic, stlaw_lump, stlaw_dist), (tocan_vic, tocan_lump, tocan_dist),
    (yenisey_vic, yenisey_lump, yenisey_dist), (ob_vic, ob_lump, ob_dist),
    (lena_vic, lena_lump, lena_dist), (yangtze_vic, yangtze_lump, yangtze_dist),
    (congo_vic, congo_lump, congo_dist), (mack_vic, mack_lump, mack_dist),
    (amur_vic, amur_lump, amur_dist), (laplata_vic, laplata_lump, laplata_dist),
]

# ---------------- layout ----------------
W, H = 1055, 797
col_left = [79.6, 325.7, 582.3, 839.3]
col_w = [214.1, 214.1, 215.0, 214.7]
row_top = [15.0, 190.3, 367.0, 543.3]
row_bot = [182.7, 359.3, 533.0, 711.5]
name_pos = [(0.663, 0.891), (0.659, 0.891), (0.665, 0.934), (0.667, 0.944),
            (0.559, 0.906), (0.655, 0.914), (0.672, 0.916), (0.667, 0.896),
            (0.661, 0.910), (0.655, 0.869), (0.660, 0.893), (0.662, 0.930),
            (0.663, 0.900), (0.658, 0.890), (0.664, 0.875), (0.667, 0.900)]
kge_pos = [(0.070, 0.805), (0.078, 0.815), (0.072, 0.805), (0.181, 0.861),
           (0.075, 0.824), (0.073, 0.837), (0.074, 0.847), (0.065, 0.847),
           (0.071, 0.843), (0.065, 0.819), (0.082, 0.836), (0.321, 0.800),
           (0.078, 0.841), (0.069, 0.841), (0.080, 0.837), (0.088, 0.845)]

TXT = '#262626'
C_VIC, C_LUMP, C_DIST = '#000000', '#00ff00', '#0000ff'
LW = 1.8

fig = plt.figure(figsize=(W / 100, H / 100), dpi=100)
months = np.arange(120)

for i in range(16):
    r, c = divmod(i, 4)
    ax = fig.add_axes([col_left[c] / W, 1 - row_bot[r] / H, col_w[c] / W,
                       (row_bot[r] - row_top[r]) / H])
    vic, lump, dist = series[i]
    if r == 3:
        x = 1971 + months / 12.0
    else:
        x = months + 1
    ax.plot(x, vic, color=C_VIC, lw=LW)
    ax.plot(x, lump, color=C_LUMP, lw=LW)
    ax.plot(x, dist, color=C_DIST, lw=LW)
    ax.set_xlim(x[0], x[-1])
    ax.set_ylim(0, row_ymax[r])
    ax.set_yticks(row_yticks[r])
    if r == 3:
        ax.set_xticks(year_ticks)
        ax.set_xticklabels([str(y) for y in year_ticks])
        ax.set_xlabel('year', fontsize=11.5, color=TXT, labelpad=5)
    else:
        ax.set_xticks([20, 40, 60, 80, 100])
    ax.tick_params(direction='in', top=True, right=True, length=3, width=0.8,
                   labelsize=11.5, colors=TXT, pad=6,
                   labelleft=(c == 0), labelbottom=(r == 3))
    for sp in ax.spines.values():
        sp.set_color(TXT)
        sp.set_linewidth(0.9)
    if c == 0:
        ax.set_ylabel(r'Q$_{\mathrm{total}}$ (mm mon$^{-1}$)', fontsize=13.5, color=TXT)
        ax.yaxis.set_label_coords(-0.20, 0.5)
    nx, ny = name_pos[i]
    ax.text(nx, ny, basins[i], transform=ax.transAxes, fontsize=8,
            ha='left', va='center', color=TXT)
    kx, ky = kge_pos[i]
    ax.text(kx, ky, r'KGE$_{\mathrm{l}}$=%.2f, KGE$_{\mathrm{d}}$=%.2f' % (kge_l[i], kge_d[i]),
            transform=ax.transAxes, fontsize=8, ha='left', va='center', color=TXT)

handles = [Line2D([0], [0], color=C_VIC, lw=LW),
           Line2D([0], [0], color=C_LUMP, lw=LW),
           Line2D([0], [0], color=C_DIST, lw=LW)]
fig.legend(handles, ['VIC', 'lump', 'dist'], loc='center',
           bbox_to_anchor=(540 / W, 1 - 787 / H), ncol=3, frameon=False,
           fontsize=11.5, handlelength=1.5, handletextpad=0.25,
           columnspacing=0.35, labelcolor=TXT)

fig.savefig('out.png', dpi=100)
